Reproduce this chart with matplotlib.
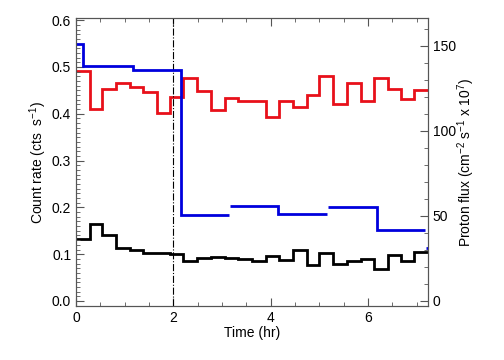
import numpy as np
import matplotlib
matplotlib.use("Agg")
import matplotlib.pyplot as plt
from matplotlib.ticker import MultipleLocator

plt.rcParams['font.family'] = ['Liberation Sans', 'DejaVu Sans']
plt.rcParams['font.size'] = 10
plt.rcParams['mathtext.fontset'] = 'custom'
plt.rcParams['mathtext.rm'] = 'Liberation Sans'

# time bin edges (hr), shared by the two count-rate curves
bin_edges = [0.0, 0.29, 0.54, 0.82, 1.11, 1.38, 1.67, 1.94, 2.20, 2.49, 2.77,
             3.05, 3.33, 3.61, 3.90, 4.17, 4.45, 4.74, 5.00, 5.28, 5.56, 5.85,
             6.12, 6.40, 6.67, 6.95, 7.23]

red_rate = [0.491, 0.410, 0.452, 0.466, 0.458, 0.447, 0.401, 0.436, 0.477,
            0.448, 0.408, 0.433, 0.427, 0.428, 0.394, 0.428, 0.415, 0.440,
            0.480, 0.421, 0.466, 0.427, 0.477, 0.452, 0.431, 0.450]

black_rate = [0.133, 0.165, 0.140, 0.113, 0.108, 0.103, 0.103, 0.100, 0.085,
              0.091, 0.094, 0.092, 0.090, 0.086, 0.097, 0.087, 0.108, 0.076,
              0.103, 0.079, 0.086, 0.089, 0.068, 0.099, 0.085, 0.104]

# proton flux, drawn as separate step segments (gaps between them)
proton_edges = [[0.0, 0.14, 1.16, 2.15, 3.15],
                [3.16, 4.15, 5.16],
                [5.17, 6.19, 7.17],
                [7.19, 7.30]]
proton_flux = [[151, 138, 136, 50.3],
               [56, 51],
               [55.5, 41.7],
               [31]]

t_marker = 2.0

fig = plt.figure(figsize=(5.04, 3.6), dpi=100)
ax = fig.add_axes([0.151, 0.15, 0.698, 0.8])

ax.stairs(red_rate, bin_edges, baseline=None, color='#e8101a', lw=2)
ax.stairs(black_rate, bin_edges, baseline=None, color='black', lw=2)
ax.axvline(t_marker, color='black', lw=0.8, ls='-.')

ax.set_xlim(0, 7.23)
ax.set_ylim(-0.0107, 0.6047)
ax.xaxis.set_major_locator(MultipleLocator(2))
ax.xaxis.set_minor_locator(MultipleLocator(0.5))
ax.yaxis.set_major_locator(MultipleLocator(0.1))
ax.yaxis.set_minor_locator(MultipleLocator(0.01))
ax.tick_params(which='both', direction='in', top=True, right=False,
               color='#555555')
ax.tick_params(which='major', length=6)
ax.tick_params(which='minor', length=3)
ax.set_xlabel('Time (hr)', labelpad=1)
ax.set_ylabel('Count rate (cts  s$^{-1}$)', labelpad=2)

ax2 = ax.twinx()
for e, v in zip(proton_edges, proton_flux):
    ax2.stairs(v, e, baseline=None, color='#0000dd', lw=2)
ax2.set_xlim(0, 7.23)
ax2.set_ylim(-0.0107 * 275, 0.6047 * 275)
ax2.yaxis.set_major_locator(MultipleLocator(50))
ax2.yaxis.set_minor_locator(MultipleLocator(10))
ax2.tick_params(which='both', direction='in', color='#555555')
ax2.tick_params(which='major', length=6)
ax2.tick_params(which='minor', length=3)
ax2.set_ylabel('Proton flux (cm$^{-2}$ s$^{-1}$ x 10$^{7}$)', labelpad=0)

for a in (ax, ax2):
    for s in a.spines.values():
        s.set_color('#555555')

fig.savefig('out.png', dpi=100)
